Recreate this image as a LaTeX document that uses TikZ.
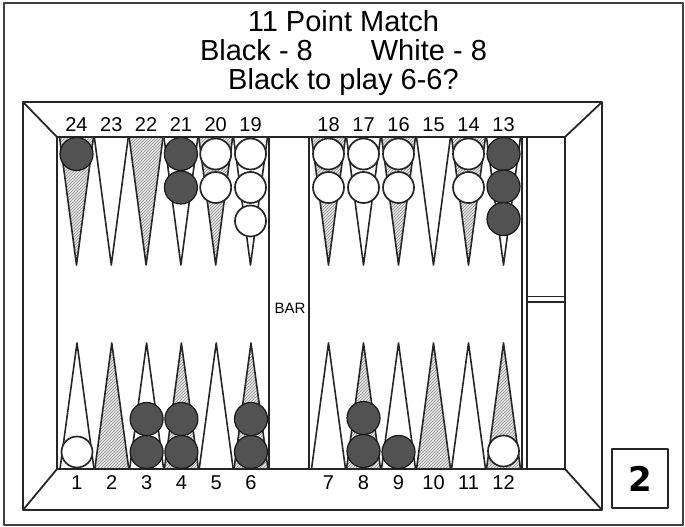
\documentclass[tikz,border=0pt]{standalone}
\usepackage{fontspec}
\setmainfont{Liberation Sans}
\newfontfamily\heavyfont{DejaVu Sans}
\usetikzlibrary{patterns}
\begin{document}
\begin{tikzpicture}[x=1pt,y=-1pt, line join=round,
  brd/.style={draw=black!85, line width=1.8pt},
  frm/.style={draw=black!75, line width=1.4pt},
  wpt/.style={draw=black!85, line width=1.6pt, fill=white},
  hpt/.style={draw=black!85, line width=1.6pt, preaction={fill=gray!22}, pattern=north east lines, pattern color=gray!85},
  bk/.style={draw=black!90, line width=1.2pt, fill=black!68},
  wh/.style={draw=black!85, line width=1.7pt, fill=white},
  num/.style={font=\fontsize{20}{20}\selectfont, inner sep=0pt},
  ttl/.style={font=\fontsize{29}{29}\selectfont, inner sep=0pt, anchor=base},
]
\useasboundingbox (0,0) rectangle (685,527);
% outer frame
\draw[frm] (4,3) rectangle (683,525);
% title
\node[ttl] (t1) at (343.5,32) {11 Point Match};
\node[ttl] (t2) at (343.5,61) {Black - 8\hspace{58pt}White - 8};
\node[ttl] (t3) at (343.5,89) {Black to play 6-6?};
% board frame
\draw[brd] (23,102) rectangle (602,510);
\draw[brd] (57,137) rectangle (565,469);
\draw[brd] (23,102) -- (57,137);
\draw[brd] (602,102) -- (565,137);
\draw[brd] (23,510) -- (57,469);
\draw[brd] (602,510) -- (565,469);
% bar
\draw[brd] (269,137) -- (269,469);
\draw[brd] (309,137) -- (309,469);
\node[font=\fontsize{15}{15}\selectfont, inner sep=0pt, anchor=base] (bar) at (290,313) {BAR};
% tray
\draw[brd] (522,137) -- (522,469);
\draw[brd] (527,137) -- (527,469);
\draw[brd] (527,296.5) -- (565,296.5);
\draw[brd] (527,302) -- (565,302);
% top points
\foreach \i/\n/\s in {0/24/hpt,1/23/wpt,2/22/hpt,3/21/wpt,4/20/hpt,5/19/wpt}{
  \pgfmathsetmacro\c{76.5+34.8*\i}
  \draw[\s] (\c-17,137) -- (\c,265) -- (\c+17,137) -- cycle;
  \node[num] (n\n) at (\c,125) {\n};
}
\foreach \i/\n/\s in {0/18/hpt,1/17/wpt,2/16/hpt,3/15/wpt,4/14/hpt,5/13/wpt}{
  \pgfmathsetmacro\c{328.5+35*\i}
  \draw[\s] (\c-17,137) -- (\c,265) -- (\c+17,137) -- cycle;
  \node[num] (n\n) at (\c,125) {\n};
}
% bottom points
\foreach \i/\n/\s in {0/1/wpt,1/2/hpt,2/3/wpt,3/4/hpt,4/5/wpt,5/6/hpt}{
  \pgfmathsetmacro\c{77+34.8*\i}
  \draw[\s] (\c-17,469) -- (\c,343) -- (\c+17,469) -- cycle;
  \node[num] (n\n) at (\c,483) {\n};
}
\foreach \i/\n/\s in {0/7/wpt,1/8/hpt,2/9/wpt,3/10/hpt,4/11/wpt,5/12/hpt}{
  \pgfmathsetmacro\c{328.5+35*\i}
  \draw[\s] (\c-17,469) -- (\c,343) -- (\c+17,469) -- cycle;
  \node[num] (n\n) at (\c,483) {\n};
}
% checkers top
\draw[bk] (76.5,154) circle (16.5);
\draw[bk] (180.9,154) circle (16.5);
\draw[bk] (180.9,187.5) circle (16.5);
\draw[wh] (215.7,154) circle (15.5);
\draw[wh] (215.7,187.5) circle (15.5);
\draw[wh] (250.5,154) circle (15.5);
\draw[wh] (250.5,187.5) circle (15.5);
\draw[wh] (250.5,221) circle (15.5);
\draw[wh] (328.5,154) circle (15.5);
\draw[wh] (328.5,187.5) circle (15.5);
\draw[wh] (363.5,154) circle (15.5);
\draw[wh] (363.5,187.5) circle (15.5);
\draw[wh] (398.5,154) circle (15.5);
\draw[wh] (398.5,187.5) circle (15.5);
\draw[wh] (468.5,154) circle (15.5);
\draw[wh] (468.5,187.5) circle (15.5);
\draw[bk] (503.5,154) circle (16.5);
\draw[bk] (503.5,186.5) circle (16.5);
\draw[bk] (503.5,219) circle (16.5);
% checkers bottom
\draw[wh] (77,452) circle (15.5);
\draw[bk] (146.6,452) circle (16.5);
\draw[bk] (146.6,419) circle (16.5);
\draw[bk] (181.4,452) circle (16.5);
\draw[bk] (181.4,419) circle (16.5);
\draw[bk] (251,452) circle (16.5);
\draw[bk] (251,419) circle (16.5);
\draw[bk] (363.5,451) circle (16.5);
\draw[bk] (363.5,418) circle (16.5);
\draw[bk] (398.5,452) circle (16.5);
\draw[wh] (503.5,451) circle (15.5);
% number box
\node[draw=black!85, line width=1.6pt, minimum width=56pt, minimum height=59pt, inner sep=0pt,
      font=\heavyfont\bfseries\fontsize{34}{34}\selectfont] (game) at (640,478.5) {2};
\end{tikzpicture}
\end{document}
